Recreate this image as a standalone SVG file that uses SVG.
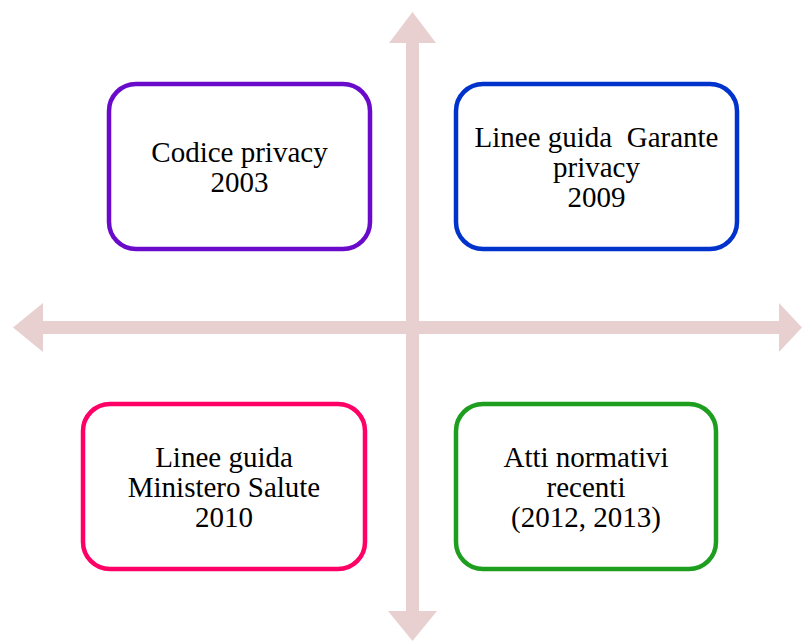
<svg xmlns="http://www.w3.org/2000/svg" width="802" height="642" viewBox="0 0 802 642">
  <style>
    .axis { fill: #E8D0D0; stroke: none; }
    .box { fill: #FFFFFF; stroke-width: 4.5; }
    .label { font-family: "Liberation Serif", "Times New Roman", serif; font-size: 29px; fill: #000000; text-anchor: middle; }
  </style>
  <rect width="802" height="642" fill="#FFFFFF"/>

  <!-- four-way arrow cross -->
  <g id="connectors">
    <polygon class="axis" points="406,43 389,43 412.5,12 436,43 419,43 419,321 779,321 779,303 802,327.5 779,352 779,334 419,334 419,611 437,611 412.5,641 388,611 406,611 406,334 43,334 43,352 13,327.5 43,303 43,321 406,321"/>
  </g>

  <g id="codice-privacy">
    <rect class="box" x="109" y="84" width="261" height="165" rx="27" stroke="#6A0BCC"/>
    <text class="label" x="239.5" y="162">Codice privacy</text>
    <text class="label" x="239.5" y="192">2003</text>
  </g>

  <g id="linee-guida-garante">
    <rect class="box" x="456" y="84" width="281" height="165" rx="27" stroke="#0033CC"/>
    <text class="label" x="596.5" y="147" xml:space="preserve">Linee guida  Garante</text>
    <text class="label" x="596.5" y="177">privacy</text>
    <text class="label" x="596.5" y="207">2009</text>
  </g>

  <g id="linee-guida-ministero">
    <rect class="box" x="83" y="404" width="282" height="165" rx="27" stroke="#FF0066"/>
    <text class="label" x="224" y="467">Linee guida</text>
    <text class="label" x="224" y="497">Ministero Salute</text>
    <text class="label" x="224" y="527">2010</text>
  </g>

  <g id="atti-normativi">
    <rect class="box" x="456" y="404" width="260" height="165" rx="27" stroke="#1E9E1E"/>
    <text class="label" x="586" y="467">Atti normativi</text>
    <text class="label" x="586" y="497">recenti</text>
    <text class="label" x="586" y="527">(2012, 2013)</text>
  </g>
</svg>
